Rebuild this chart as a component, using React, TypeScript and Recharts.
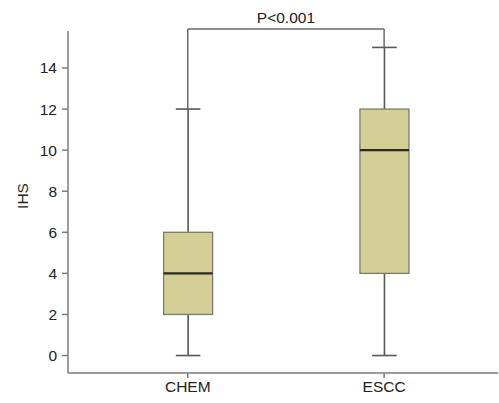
import { ComposedChart, Bar, XAxis, YAxis, ReferenceLine } from "recharts";

const groups = ["CHEM", "ESCC"];
const positions = [1, 2];
const mins = [0, 0];
const q1s = [2, 4];
const medians = [4, 10];
const q3s = [6, 12];
const maxs = [12, 15];
const yTicks = [0, 2, 4, 6, 8, 10, 12, 14];
const bracketTop = 15.9;
const pLabel = "P<0.001";

const data = groups.map((name, i) => ({
  name,
  pos: positions[i],
  min: mins[i],
  q1: q1s[i],
  median: medians[i],
  q3: q3s[i],
  max: maxs[i],
}));

const font = "'Liberation Sans', Arial, sans-serif";
const axisColor = "#7c7c7c";

// draws whisker, box and median from the bar's [min, max] range
function BoxShape(props: any) {
  const { x, y, width, height, payload } = props;
  const top = Math.min(y, y + height);
  const h = Math.abs(height);
  const unit = h / (payload.max - payload.min);
  const py = (v: number) => top + (payload.max - v) * unit;
  const cx = x + width / 2;
  const cap = width / 4;
  return (
    <g>
      <line x1={cx} x2={cx} y1={py(payload.max)} y2={py(payload.q3)} stroke="#575757" strokeWidth={1.6} />
      <line x1={cx} x2={cx} y1={py(payload.q1)} y2={py(payload.min)} stroke="#575757" strokeWidth={1.6} />
      <line x1={cx - cap} x2={cx + cap} y1={py(payload.max)} y2={py(payload.max)} stroke="#575757" strokeWidth={1.6} />
      <line x1={cx - cap} x2={cx + cap} y1={py(payload.min)} y2={py(payload.min)} stroke="#575757" strokeWidth={1.6} />
      <rect
        x={x}
        y={py(payload.q3)}
        width={width}
        height={py(payload.q1) - py(payload.q3)}
        fill="#d4cf96"
        stroke="#7a7a6a"
        strokeWidth={1.3}
      />
      <line x1={x} x2={x + width} y1={py(payload.median)} y2={py(payload.median)} stroke="#2a2a1e" strokeWidth={2.2} />
    </g>
  );
}

export default function App() {
  return (
    <div style={{ position: "absolute", left: 0, top: 0, background: "#fff" }}>
      <ComposedChart
        width={499}
        height={403}
        data={data}
        margin={{ top: 31, right: 1, bottom: 0, left: 0 }}
        style={{ fontFamily: font }}
      >
        <XAxis
          dataKey="pos"
          type="number"
          domain={[0.39, 2.58]}
          ticks={positions}
          tickFormatter={(v: number) => groups[positions.indexOf(v)] ?? ""}
          height={30}
          tickSize={5}
          tickMargin={3}
          stroke={axisColor}
          strokeWidth={1.5}
          tick={{ fill: "#222", fontSize: 15.5 }}
        />
        <YAxis
          type="number"
          domain={[-0.85, 15.8]}
          ticks={yTicks}
          width={68}
          tickSize={6}
          tickMargin={5}
          stroke={axisColor}
          strokeWidth={1.5}
          tick={{ fill: "#222", fontSize: 15.5 }}
          allowDataOverflow
          label={{
            content: ({ viewBox }: any) => (
              <text
                x={viewBox.x + 22}
                y={viewBox.y + viewBox.height / 2 - 6}
                transform={`rotate(-90, ${viewBox.x + 22}, ${viewBox.y + viewBox.height / 2 - 6})`}
                textAnchor="middle"
                dominantBaseline="central"
                fill="#222"
                fontSize={15.5}
                fontFamily={font}
              >
                IHS
              </text>
            ),
          }}
        />
        <Bar
          dataKey={(d: any) => [d.min, d.max]}
          barSize={49}
          shape={<BoxShape />}
          isAnimationActive={false}
        />
        <ReferenceLine
          segment={[{ x: positions[0], y: maxs[0] }, { x: positions[0], y: bracketTop }]}
          stroke="#6a6a6a"
          strokeWidth={1.5}
          ifOverflow="visible"
        />
        <ReferenceLine
          segment={[{ x: positions[1], y: maxs[1] }, { x: positions[1], y: bracketTop }]}
          stroke="#6a6a6a"
          strokeWidth={1.5}
          ifOverflow="visible"
        />
        <ReferenceLine
          segment={[{ x: positions[0], y: bracketTop }, { x: positions[1], y: bracketTop }]}
          stroke="#6a6a6a"
          strokeWidth={1.5}
          ifOverflow="visible"
          label={{ value: pLabel, position: "top", offset: 6, fill: "#222", fontSize: 15.5, fontFamily: font }}
        />
      </ComposedChart>
    </div>
  );
}
